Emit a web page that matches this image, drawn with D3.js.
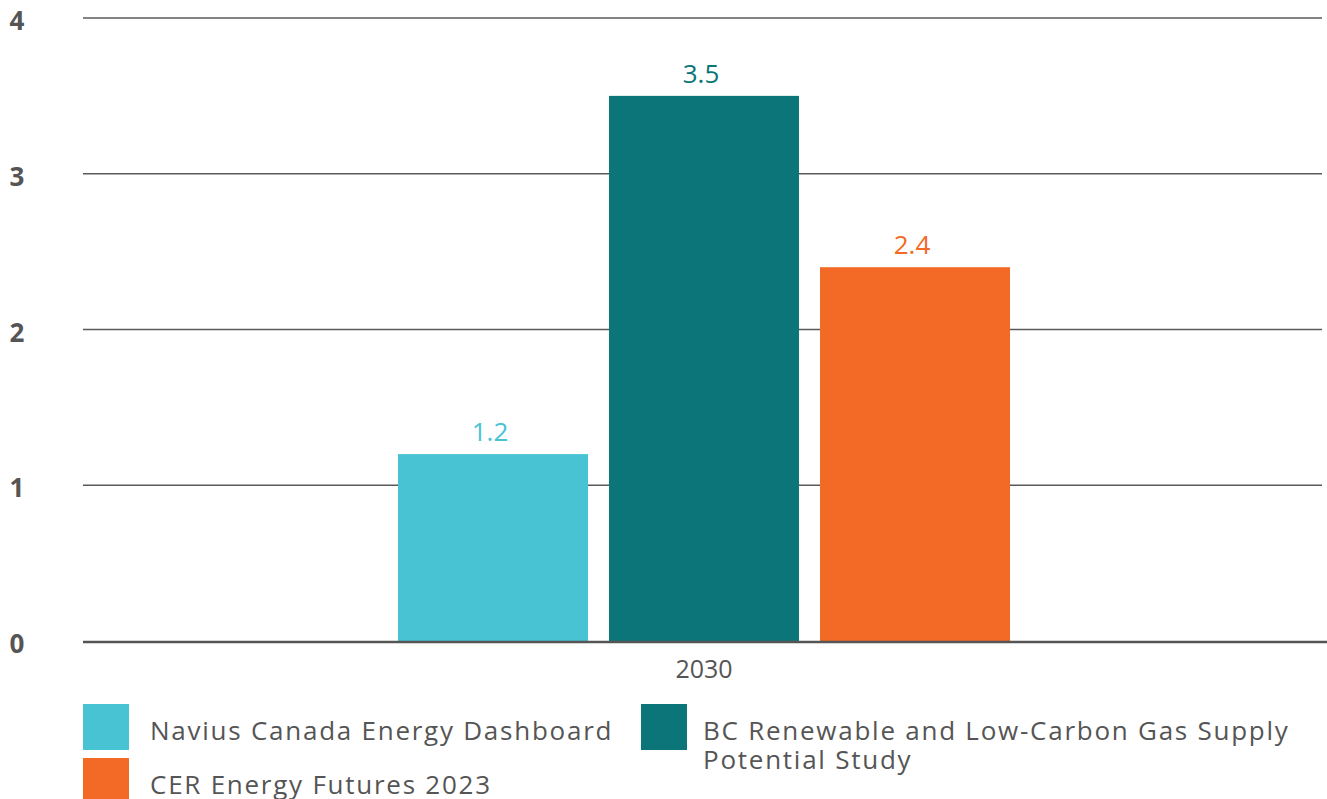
<!DOCTYPE html>
<html><head><meta charset="utf-8">
<script src="https://cdn.jsdelivr.net/npm/d3@7"></script>
<style>body{margin:0;background:#fff;}svg{display:block;font-family:"Open Sans",sans-serif;}</style>
</head><body><svg id="c" width="1327" height="799"></svg>
<script>
const categories = ["2030"];
const seriesNames = ["Navius Canada Energy Dashboard", "BC Renewable and Low-Carbon Gas Supply Potential Study", "CER Energy Futures 2023"];
const seriesValues = [1.2, 3.5, 2.4];
const seriesColors = ["#47C3D3", "#0B7579", "#F26A25"];
const yTicks = [0, 1, 2, 3, 4];

(function () {
const svg = d3.select("#c");
const mLeft = 83, mRight = 1322, mTop = 18, mBottom = 641;
const y = d3.scaleLinear().domain([0, 4]).range([mBottom, mTop]);
const x0 = d3.scaleBand().domain(categories).range([mLeft, mRight + 3]).paddingInner(0).paddingOuter(0.5147);
const x1 = d3.scaleBand().domain(seriesNames).range([0, x0.bandwidth()]).paddingInner(0.0995).paddingOuter(0);

// gridlines
svg.append("g").selectAll("line").data(yTicks.filter(d => d > 0)).join("line")
  .attr("x1", mLeft).attr("x2", mRight).attr("y1", d => y(d)).attr("y2", d => y(d))
  .attr("stroke", "#5a5a5a").attr("stroke-width", 1.3);

// y labels
svg.append("g").selectAll("text").data(yTicks).join("text")
  .attr("x", 17).attr("y", d => y(d) + 12).attr("text-anchor", "middle")
  .attr("font-size", 26).attr("font-weight", 700).attr("fill", "#555").text(d => d);

// bars
const g = svg.append("g").selectAll("g").data(categories).join("g").attr("transform", d => `translate(${x0(d)},0)`);
const data = seriesNames.map((s, i) => ({ s, v: seriesValues[i], c: seriesColors[i] }));
g.selectAll("rect").data(data).join("rect")
  .attr("x", d => x1(d.s)).attr("width", x1.bandwidth())
  .attr("y", d => y(d.v)).attr("height", d => mBottom - y(d.v))
  .attr("fill", d => d.c);
g.selectAll("text.v").data(data).join("text").attr("class", "v")
  .attr("x", d => x1(d.s) + x1.bandwidth() / 2 - 3).attr("y", d => y(d.v) - 13)
  .attr("text-anchor", "middle").attr("font-size", 26).attr("fill", d => d.c)
  .text(d => d.v.toFixed(1));

// baseline
svg.append("line").attr("x1", mLeft).attr("x2", mRight + 5).attr("y1", mBottom + 1).attr("y2", mBottom + 1)
  .attr("stroke", "#555").attr("stroke-width", 2.5);

// category label
svg.selectAll("text.cat").data(categories).join("text").attr("class", "cat")
  .attr("x", d => x0(d) + x0.bandwidth() / 2).attr("y", 678).attr("text-anchor", "middle")
  .attr("font-size", 25).attr("fill", "#555").text(d => d);

// legend
const legend = [
  { i: 0, x: 83, y: 704, tx: 150, lines: [seriesNames[0]] },
  { i: 1, x: 641, y: 704, tx: 703, lines: ["BC Renewable and Low-Carbon Gas Supply", "Potential Study"] },
  { i: 2, x: 83, y: 758, tx: 150, lines: [seriesNames[2]] }
];
const lg = svg.append("g").selectAll("g").data(legend).join("g");
lg.append("rect").attr("x", d => d.x).attr("y", d => d.y).attr("width", 46).attr("height", 46)
  .attr("fill", d => seriesColors[d.i]);
lg.each(function (d) {
  const t = d3.select(this).append("text").attr("font-size", 26).attr("letter-spacing", 1.75).attr("fill", "#555");
  d.lines.forEach((l, k) => t.append("tspan").attr("x", d.tx).attr("y", d.y + 36 + k * 29).text(l));
});
})();
</script></body></html>
